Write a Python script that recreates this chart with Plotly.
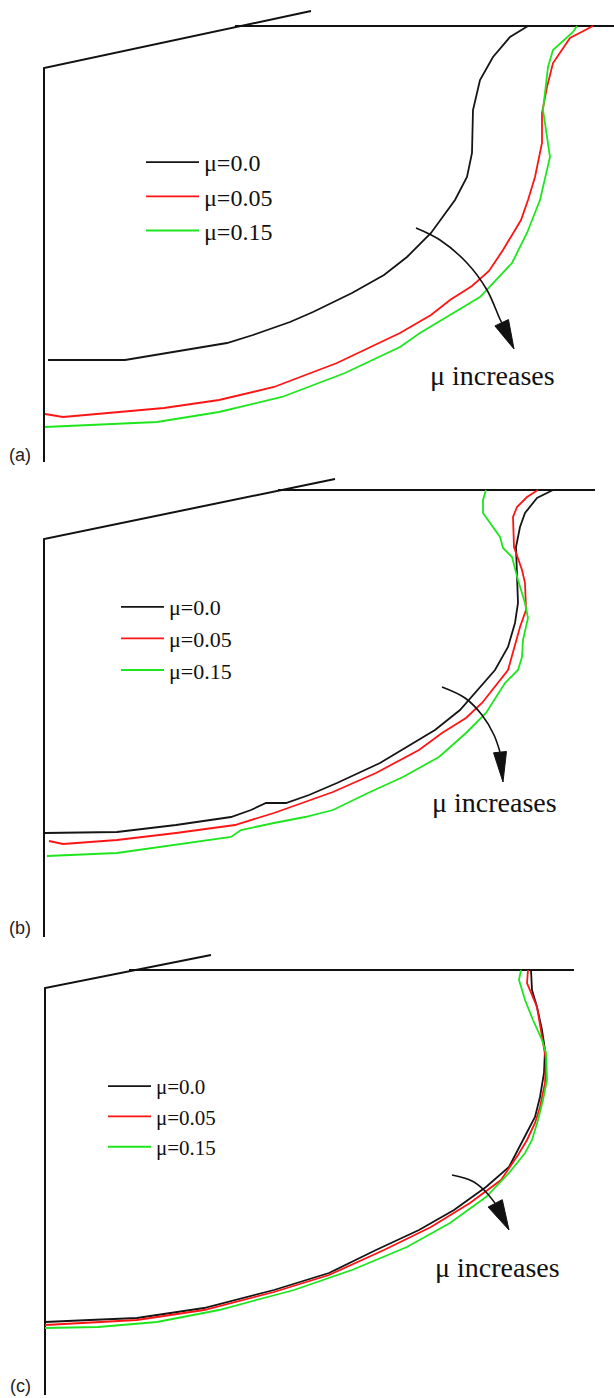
import numpy as np
import plotly.graph_objects as go

# ---------------- data (x: px from left edge, y: depth below the top surface) ----------------
LABELS = ["μ=0.0", "μ=0.05", "μ=0.15"]
COLORS = ["#151515", "#ff1414", "#1ee61e"]
PANELS = ["(a)", "(b)", "(c)"]

# panel (a)
A_MU0_X = [528, 510, 493, 480, 473, 472, 467, 455, 431, 407, 384, 352, 313, 290, 253, 227, 173, 125, 48]
A_MU0_Y = [0, 11, 31, 54, 84, 127, 151, 174, 207, 231, 249, 267, 286, 296, 309, 317, 326, 334, 334]
A_MU005_X = [593, 570, 553, 547, 542, 542, 535, 528, 521, 503, 489, 472, 450, 431, 400, 337, 274, 219, 164, 110, 63, 45]
A_MU005_Y = [0, 12, 37, 61, 87, 117, 151, 174, 194, 224, 245, 260, 274, 289, 307, 337, 361, 374, 382, 387, 391, 388]
A_MU015_X = [577, 573, 553, 548, 543, 550, 540, 527, 512, 480, 450, 420, 400, 345, 282, 219, 157, 98, 45]
A_MU015_Y = [0, 6, 24, 41, 84, 131, 174, 207, 237, 271, 289, 307, 321, 347, 371, 386, 396, 399, 401]

# panel (b)
B_MU0_X = [553, 537, 525, 520, 516, 517, 518, 515, 508, 495, 460, 435, 407, 380, 337, 309, 286, 266, 251, 231, 176, 117, 45]
B_MU0_Y = [0, 8, 23, 37, 57, 80, 113, 133, 157, 180, 220, 240, 257, 273, 293, 305, 313, 313, 320, 327, 335, 342, 343]
B_MU005_X = [538, 527, 517, 513, 514, 522, 525, 526, 520, 513, 508, 482, 466, 442, 419, 376, 333, 274, 235, 176, 117, 63, 49]
B_MU005_Y = [0, 7, 17, 27, 57, 80, 93, 120, 137, 163, 180, 213, 228, 243, 260, 283, 302, 323, 335, 343, 350, 354, 351]
B_MU015_X = [486, 483, 483, 500, 503, 512, 518, 525, 528, 523, 522, 518, 505, 486, 466, 439, 403, 368, 333, 305, 274, 241, 231, 176, 117, 47]
B_MU015_Y = [0, 10, 23, 47, 58, 67, 90, 113, 128, 150, 167, 180, 193, 223, 243, 267, 287, 303, 320, 327, 333, 340, 347, 355, 363, 366]

# panel (c)
C_MU0_X = [531, 532, 537, 542, 545, 544, 540, 535, 523, 509, 486, 454, 419, 376, 329, 274, 204, 137, 90, 45]
C_MU0_Y = [0, 20, 37, 60, 80, 103, 127, 147, 170, 197, 217, 240, 260, 280, 303, 320, 338, 348, 350, 352]
C_MU005_X = [528, 527, 537, 543, 546, 545, 540, 535, 527, 518, 501, 470, 431, 384, 329, 274, 204, 137, 86, 45]
C_MU005_Y = [0, 13, 37, 70, 90, 113, 137, 153, 170, 185, 210, 233, 257, 280, 305, 322, 340, 350, 353, 355]
C_MU015_X = [521, 519, 525, 533, 542, 546, 547, 543, 538, 532, 525, 509, 486, 450, 407, 352, 294, 219, 157, 98, 45]
C_MU015_Y = [0, 10, 30, 50, 70, 83, 110, 130, 150, 170, 183, 203, 227, 253, 277, 300, 320, 340, 352, 357, 358]

# geometry outline: wall bottom -> wall top -> end of slanted face ; flat surface
A_WALL_X = [44, 44, 311]
A_WALL_Y = [436, 42, -15]
A_SURF_X = [235, 614]
B_WALL_X = [44, 44, 335]
B_WALL_Y = [447, 49, -11]
B_SURF_X = [278, 595]
C_WALL_X = [45, 45, 211]
C_WALL_Y = [425, 18, -15]
C_SURF_X = [129, 574]

# curved "μ increases" arrows (last point = arrow tip)
A_ARROW_X = [416, 440, 467, 487, 499, 514]
A_ARROW_Y = [202, 214, 237, 264, 291, 323]
B_ARROW_X = [442, 465, 482, 494, 500, 503]
B_ARROW_Y = [197, 208, 225, 245, 262, 292]
C_ARROW_X = [452, 472, 484, 495, 509]
C_ARROW_Y = [205, 211, 220, 233, 260]

# ---------------- layout settings ----------------
W, H = 614, 1398
PANEL_ROWS = [(0, 470, 26), (470, 940, 490), (940, 1398, 970)]   # pixel rows of panel + its top surface
LEGEND_POS = [(141, 140), (116, 586), (103, 1066)]
LEGEND_FONT = [24, 22, 21]
LEGEND_ITEMW = [53, 43, 43]
NOTE_POS = [(492, 349), (494, 312), (497, 297)]
TAG_POS = [(20, 429), (20, 438), (20, 416)]
HEAD_LEN = [29, 30, 30]
HEAD_WID = [15, 13, 16]

curves = [
    [(A_MU0_X, A_MU0_Y), (A_MU005_X, A_MU005_Y), (A_MU015_X, A_MU015_Y)],
    [(B_MU0_X, B_MU0_Y), (B_MU005_X, B_MU005_Y), (B_MU015_X, B_MU015_Y)],
    [(C_MU0_X, C_MU0_Y), (C_MU005_X, C_MU005_Y), (C_MU015_X, C_MU015_Y)],
]
walls = [(A_WALL_X, A_WALL_Y, A_SURF_X), (B_WALL_X, B_WALL_Y, B_SURF_X), (C_WALL_X, C_WALL_Y, C_SURF_X)]
arrows = [(A_ARROW_X, A_ARROW_Y), (B_ARROW_X, B_ARROW_Y), (C_ARROW_X, C_ARROW_Y)]

SERIF = "Liberation Serif, Times New Roman, serif"
fig = go.Figure()
layout = dict(
    width=W, height=H, margin=dict(l=0, r=0, t=0, b=0),
    paper_bgcolor="white", plot_bgcolor="white",
    showlegend=True, annotations=[],
)

for i in range(3):
    sfx = "" if i == 0 else str(i + 1)
    xa, ya = "x" + sfx, "y" + sfx
    top, bot, surf = PANEL_ROWS[i]
    layout["xaxis" + sfx] = dict(domain=[0, 1], range=[0, W], visible=False, anchor=ya, fixedrange=True)
    layout["yaxis" + sfx] = dict(domain=[1 - bot / H, 1 - top / H], range=[bot - surf, top - surf],
                                 visible=False, anchor=xa, fixedrange=True)
    leg = "legend" + sfx
    lx, ly = LEGEND_POS[i]
    layout[leg] = dict(x=lx / W, y=1 - ly / H, xanchor="left", yanchor="top",
                       bgcolor="rgba(0,0,0,0)", borderwidth=0, itemwidth=LEGEND_ITEMW[i],
                       font=dict(family=SERIF, size=LEGEND_FONT[i], color="#111"))

    wx, wy, sx = walls[i]
    fig.add_trace(go.Scatter(x=wx, y=wy, mode="lines", line=dict(color="#111", width=2),
                             xaxis=xa, yaxis=ya, showlegend=False, hoverinfo="skip"))
    fig.add_trace(go.Scatter(x=sx, y=[0] * len(sx), mode="lines", line=dict(color="#111", width=2),
                             xaxis=xa, yaxis=ya, showlegend=False, hoverinfo="skip"))

    for k, (cx, cy) in enumerate(curves[i]):
        fig.add_trace(go.Scatter(x=cx, y=cy, mode="lines", name=LABELS[k],
                                 line=dict(color=COLORS[k], width=1.8),
                                 xaxis=xa, yaxis=ya, legend=leg))

    # arrow: spline shaft up to the head base, head as a filled triangle derived from the last segment
    ax_ = np.array(arrows[i][0], float)
    ay_ = np.array(arrows[i][1], float)
    tip = np.array([ax_[-1], ay_[-1]])
    d = tip - np.array([ax_[-2], ay_[-2]])
    u = d / np.hypot(*d)
    n = np.array([-u[1], u[0]])
    base = tip - HEAD_LEN[i] * u
    shaft_x = list(ax_[:-1]) + [base[0]]
    shaft_y = list(ay_[:-1]) + [base[1]]
    if np.hypot(ax_[-2] - base[0], ay_[-2] - base[1]) < 4:
        shaft_x, shaft_y = shaft_x[:-2] + [base[0]], shaft_y[:-2] + [base[1]]
    fig.add_trace(go.Scatter(x=shaft_x, y=shaft_y, mode="lines",
                             line=dict(color="#111", width=1.6, shape="spline"),
                             xaxis=xa, yaxis=ya, showlegend=False, hoverinfo="skip"))
    c1 = base + n * HEAD_WID[i] / 2
    c2 = base - n * HEAD_WID[i] / 2
    fig.add_trace(go.Scatter(x=[tip[0], c1[0], c2[0], tip[0]], y=[tip[1], c1[1], c2[1], tip[1]],
                             mode="lines", fill="toself", fillcolor="#111",
                             line=dict(color="#111", width=1),
                             xaxis=xa, yaxis=ya, showlegend=False, hoverinfo="skip"))

    nx, ny = NOTE_POS[i]
    layout["annotations"].append(dict(
        x=nx, y=ny, xref=xa, yref=ya, text="μ increases", showarrow=False,
        font=dict(family=SERIF, size=28, color="#111")))
    tx, ty = TAG_POS[i]
    layout["annotations"].append(dict(
        x=tx, y=ty, xref=xa, yref=ya, text=PANELS[i], showarrow=False,
        font=dict(family="Liberation Sans, Arial, sans-serif", size=18, color="#222")))

fig.update_layout(**layout)
fig.write_html("out.html")
